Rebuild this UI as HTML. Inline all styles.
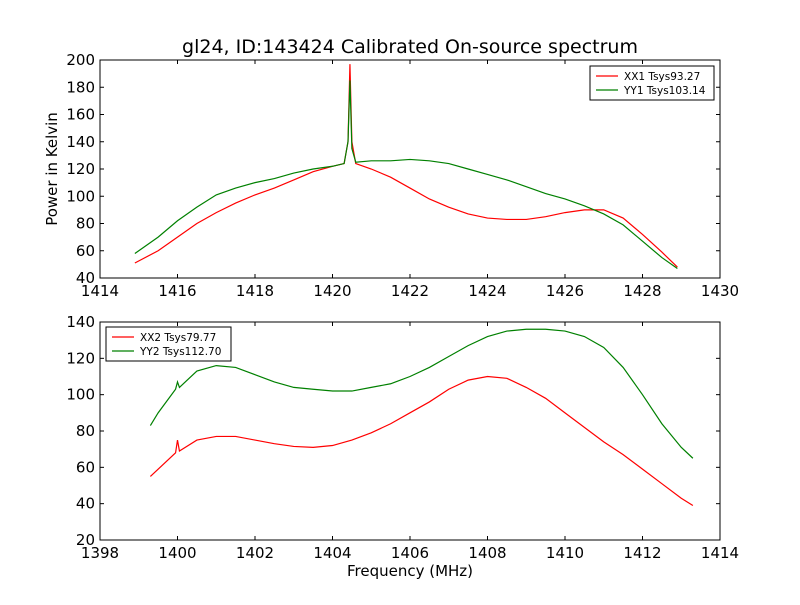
<!DOCTYPE html>
<html><head><meta charset="utf-8"><style>
body{margin:0;background:#fff}
svg{font-family:"DejaVu Sans","Liberation Sans",sans-serif}
</style></head><body>
<svg id="fig" width="800" height="600" viewBox="0 0 800 600">
<rect width="800" height="600" fill="#fff"/>
<text x="410" y="53" font-size="19" text-anchor="middle">gl24, ID:143424 Calibrated On-source spectrum</text>
<text transform="translate(57,169) rotate(-90)" font-size="15" text-anchor="middle">Power in Kelvin</text>
<text x="410" y="576" font-size="15" text-anchor="middle">Frequency (MHz)</text>
<g id="top"></g><g id="bot"></g>
</svg>
<script>
const topXTicks=[1414,1416,1418,1420,1422,1424,1426,1428,1430];
const topYTicks=[40,60,80,100,120,140,160,180,200];
const botXTicks=[1398,1400,1402,1404,1406,1408,1410,1412,1414];
const botYTicks=[20,40,60,80,100,120,140];
const xx1Freq=[1414.9,1415.5,1416,1416.5,1417,1417.5,1418,1418.5,1419,1419.5,1420,1420.3,1420.4,1420.45,1420.5,1420.6,1421,1421.5,1422,1422.5,1423,1423.5,1424,1424.5,1425,1425.5,1426,1426.5,1427,1427.5,1428,1428.5,1428.9];
const xx1Vals=[51,60,70,80,88,95,101,106,112,118,122,124,140,197,140,124,120,114,106,98,92,87,84,83,83,85,88,90,90,84,72,59,48];
const yy1Freq=[1414.9,1415.5,1416,1416.5,1417,1417.5,1418,1418.5,1419,1419.5,1420,1420.3,1420.4,1420.45,1420.5,1420.6,1421,1421.5,1422,1422.5,1423,1423.5,1424,1424.5,1425,1425.5,1426,1426.5,1427,1427.5,1428,1428.5,1428.9];
const yy1Vals=[58,70,82,92,101,106,110,113,117,120,122,124,140,185,135,125,126,126,127,126,124,120,116,112,107,102,98,93,87,79,67,55,47];
const xx2Freq=[1399.3,1399.5,1399.95,1400,1400.05,1400.5,1401,1401.5,1402,1402.5,1403,1403.5,1404,1404.5,1405,1405.5,1406,1406.5,1407,1407.5,1408,1408.5,1409,1409.5,1410,1410.5,1411,1411.5,1412,1412.5,1413,1413.3];
const xx2Vals=[55,59,68,75,69,75,77,77,75,73,71.5,71,72,75,79,84,90,96,103,108,110,109,104,98,90,82,74,67,59,51,43,39];
const yy2Freq=[1399.3,1399.5,1399.95,1400,1400.05,1400.5,1401,1401.5,1402,1402.5,1403,1403.5,1404,1404.5,1405,1405.5,1406,1406.5,1407,1407.5,1408,1408.5,1409,1409.5,1410,1410.5,1411,1411.5,1412,1412.5,1413,1413.3];
const yy2Vals=[83,90,103,107,104,113,116,115,111,107,104,103,102,102,104,106,110,115,121,127,132,135,136,136,135,132,126,115,100,84,71,65];
const NS="http://www.w3.org/2000/svg";
function mk(p,t,a){const e=document.createElementNS(NS,t);for(const k in a)e.setAttribute(k,a[k]);p.appendChild(e);return e;}
function panel(g,name,x0,y0,w,h,xmin,xmax,ymin,ymax,xt,yt,series,leg){
 const sx=v=>x0+(v-xmin)/(xmax-xmin)*w, sy=v=>y0+h-(v-ymin)/(ymax-ymin)*h;
 series.forEach(s=>{
  const p=mk(g,'polyline',{points:s.f.map((f,i)=>sx(f)+','+sy(s.v[i])).join(' '),fill:'none',stroke:s.c,'stroke-width':1.2});
  
  
 });
 const fr=mk(g,'rect',{x:x0,y:y0,width:w,height:h,fill:'none',stroke:'#000','stroke-width':1});
 
 
 xt.forEach(v=>{const X=sx(v);
  mk(g,'line',{x1:X,x2:X,y1:y0+h,y2:y0+h-4,stroke:'#000'});mk(g,'line',{x1:X,x2:X,y1:y0,y2:y0+4,stroke:'#000'});
  const t=mk(g,'text',{x:X,y:y0+h+18,'font-size':15,'text-anchor':'middle'});t.textContent=v;
  
  });
 yt.forEach(v=>{const Y=sy(v);
  mk(g,'line',{x1:x0,x2:x0+4,y1:Y,y2:Y,stroke:'#000'});mk(g,'line',{x1:x0+w,x2:x0+w-4,y1:Y,y2:Y,stroke:'#000'});
  const t=mk(g,'text',{x:x0-5,y:Y+5,'font-size':15,'text-anchor':'end'});t.textContent=v;
  
  });
 const lg=mk(g,'g',{});
 
 
 mk(lg,'rect',{x:leg.x,y:leg.y,width:leg.w,height:34,fill:'#fff',stroke:'#000'});
 series.forEach((s,i)=>{const Y=leg.y+10+i*14;
  mk(lg,'line',{x1:leg.x+6,x2:leg.x+28,y1:Y,y2:Y,stroke:s.c,'stroke-width':1.2});
  const t=mk(lg,'text',{x:leg.x+34,y:Y+4,'font-size':10.5});t.textContent=s.l;
  
  });
}
panel(document.getElementById('top'),'top-panel',100,60,620,218,1414,1430,40,200,topXTicks,topYTicks,
 [{f:xx1Freq,v:xx1Vals,c:'#f00',n:'xx1-line',l:'XX1 Tsys93.27'},{f:yy1Freq,v:yy1Vals,c:'#008000',n:'yy1-line',l:'YY1 Tsys103.14'}],{x:590,y:66,w:124});
panel(document.getElementById('bot'),'bottom-panel',100,322,620,218,1398,1414,20,140,botXTicks,botYTicks,
 [{f:xx2Freq,v:xx2Vals,c:'#f00',n:'xx2-line',l:'XX2 Tsys79.77'},{f:yy2Freq,v:yy2Vals,c:'#008000',n:'yy2-line',l:'YY2 Tsys112.70'}],{x:106,y:327,w:125});
</script>
</body></html>
